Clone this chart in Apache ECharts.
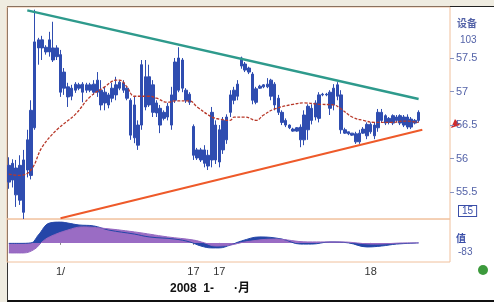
<!DOCTYPE html>
<html>
<head>
<meta charset="utf-8">
<script src="https://cdn.jsdelivr.net/npm/echarts@6/dist/echarts.min.js"></script>
<style>
html,body{margin:0;padding:0;background:#efece1;width:494px;height:302px;overflow:hidden;}
#frame{position:absolute;left:7px;top:6px;width:487px;height:296px;box-sizing:border-box;background:#fff;border-left:1.5px solid #333;border-top:1.5px solid #222;border-bottom:2px solid #111;}
#chart{position:absolute;left:0;top:0;width:494px;height:302px;}
</style>
</head>
<body>
<div id="frame"></div>
<div id="chart"></div>
<script>
// ---- data ----
const opens = [55.90,55.93,55.86,55.90,55.98,56.28,56.72,57.74,57.77,57.65,
57.66,57.77,57.65,57.65,57.55,57.29,57.07,57.05,57.11,57.10,
57.11,57.02,57.10,57.11,57.17,57.02,56.99,56.95,57.05,57.10,
57.14,57.13,57.05,56.87,56.80,56.50,57.40,57.22,57.22,57.10,
56.83,56.75,56.69,56.78,56.95,57.44,57.50,57.47,57.02,56.96,
56.48,56.13,56.13,56.13,56.05,56.69,56.50,56.43,56.57,56.62,
56.95,57.02,57.11,57.50,57.41,57.35,57.26,57.04,57.08,57.10,
57.11,57.17,57.11,56.90,56.69,56.57,56.50,56.44,56.46,56.47,
56.65,56.78,56.75,56.83,56.95,56.96,56.95,56.99,57.05,57.10,
56.95,56.43,56.40,56.38,56.37,56.38,56.44,56.51,56.51,56.50,
56.69,56.69,56.64,56.60,56.64,56.62,56.64,56.62,56.62,56.59,
56.57,56.69];
const closes = [55.65,55.68,55.46,55.38,55.20,55.83,55.75,56.46,57.65,57.77,
57.59,57.59,57.47,57.52,56.99,57.05,56.92,56.93,57.02,57.05,
56.99,57.10,57.02,56.99,56.99,56.80,56.83,56.80,56.90,56.95,
57.05,57.02,56.90,56.35,56.31,56.20,56.50,56.77,56.80,56.69,
56.68,56.50,56.60,56.62,56.50,56.87,57.02,57.05,56.87,56.84,
56.05,56.01,55.98,55.93,55.89,55.98,55.98,55.95,56.13,56.28,
56.69,56.87,56.93,57.38,57.32,57.29,56.87,56.84,57.05,57.07,
57.07,56.93,56.80,56.69,56.54,56.50,56.46,56.41,56.41,56.28,
56.28,56.43,56.57,56.62,56.60,56.95,56.96,56.75,56.80,56.93,
56.43,56.38,56.37,56.35,56.25,56.25,56.38,56.34,56.40,56.34,
56.46,56.57,56.53,56.54,56.53,56.57,56.53,56.50,56.47,56.47,
56.53,56.57];
const lows = [55.55,55.57,55.28,55.31,55.10,55.72,55.69,56.43,57.40,57.47,
57.55,57.52,57.44,57.47,56.92,56.95,56.77,56.87,56.98,57.02,
56.84,56.98,56.99,56.95,56.92,56.72,56.72,56.75,56.84,56.87,
57.02,56.98,56.87,56.28,56.23,56.13,56.43,56.72,56.77,56.62,
56.62,56.38,56.57,56.57,56.43,56.83,56.99,56.99,56.83,56.80,
55.98,55.98,55.95,55.87,55.83,55.87,55.92,55.87,56.07,56.22,
56.62,56.81,56.87,57.34,57.29,57.26,56.81,56.81,57.04,57.05,
57.05,56.87,56.72,56.65,56.50,56.47,56.44,56.40,56.40,56.17,
56.20,56.28,56.51,56.57,56.54,56.93,56.93,56.65,56.72,56.87,
56.37,56.37,56.35,56.34,56.22,56.22,56.37,56.29,56.37,56.29,
56.40,56.54,56.50,56.51,56.50,56.54,56.50,56.47,56.44,56.44,
56.51,56.54];
const highs = [56.02,55.99,55.98,56.05,56.13,56.43,56.87,58.22,57.80,57.83,
57.69,57.89,58.04,57.69,57.62,57.35,57.13,57.10,57.14,57.13,
57.14,57.13,57.13,57.17,57.29,57.17,57.07,56.98,57.13,57.22,
57.17,57.17,57.07,56.90,56.92,56.57,57.47,57.47,57.40,57.17,
56.87,56.80,56.72,56.83,57.07,57.50,57.66,57.50,57.05,56.99,
56.51,56.16,56.16,56.20,56.13,56.77,56.57,56.50,56.62,56.66,
57.02,57.07,57.17,57.52,57.44,57.37,57.29,57.07,57.10,57.11,
57.20,57.19,57.14,56.95,56.72,56.60,56.51,56.46,56.47,56.51,
56.72,56.81,56.81,56.87,56.99,56.98,56.98,57.02,57.11,57.14,
57.02,56.46,56.40,56.38,56.40,56.43,56.47,56.54,56.54,56.54,
56.74,56.74,56.66,56.62,56.66,56.65,56.66,56.65,56.66,56.62,
56.59,56.72];

const maIndex = [0,3,6,9,13,18,22,26,29,30,32,34,38,40,43,45,49,51,55,57,60,61,64,67,69,72,77,80,84,88,90,93,96,99,104,107,111];
const maValue = [55.77,55.75,55.83,56.17,56.43,56.66,56.92,57.07,57.17,57.17,57.07,56.93,56.93,56.90,56.84,56.86,56.86,56.77,56.62,56.59,56.57,56.62,56.62,56.57,56.65,56.74,56.81,56.83,56.81,56.80,56.74,56.62,56.57,56.54,56.54,56.56,56.54];

const upperLineIndex = [5,111];
const upperLineValue = [58.21,56.89];
const lowerLineIndex = [14,112];
const lowerLineValue = [55.11,56.43];

const difIndex = [0,3,6,8,11,14,16,19,23,27,34,38,45,49,52,55,57,60,63,68,74,79,82,87,92,97,101,105,111];
const difValue = [-0.02,-0.02,0,0.33,0.83,0.87,0.83,0.75,0.71,0.54,0.37,0.25,0.16,0.04,-0.13,-0.21,-0.21,-0.09,0.08,0.25,0.16,-0.05,-0.05,0.04,0,-0.17,-0.13,-0.05,0];
const deaIndex = [0,4,7,9,11,16,20,25,34,43,50,53,56,60,64,72,81,90,99,108,111];
const deaValue = [-0.42,-0.42,-0.26,0.04,0.25,0.54,0.67,0.62,0.46,0.25,0.12,0,-0.13,-0.09,0.04,0.16,0.04,0.04,-0.05,0,0];

const priceTicks = [55.5,56,56.5,57,57.5];
const xTickIndex = [14,50,57,98];
const xTickText = ['1/','17','17','18'];
const categoryCount = 120;

// ---- build ----
const categories = [];
for (let i = 0; i < categoryCount; i++) {
  const k = xTickIndex.indexOf(i);
  categories.push(k >= 0 ? xTickText[k] : '');
}
const candles = opens.map((o, i) => [o, closes[i], lows[i], highs[i]]);
const pairs = (idx, val) => idx.map((i, k) => [i, val[k]]);

const BLUE = '#2f4db0';
const ORANGE_GRID = '#f0c09c';
const LABEL = '#5463a8';

const chart = echarts.init(document.getElementById('chart'), null, {renderer: 'canvas'});
chart.setOption({
  backgroundColor: 'transparent',
  animation: false,
  grid: [
    {left: 7, right: 44, top: 7, height: 212, show: true, borderColor: ORANGE_GRID, borderWidth: 1, backgroundColor: 'transparent'},
    {left: 7, right: 44, top: 219, height: 43, show: true, borderColor: ORANGE_GRID, borderWidth: 1, backgroundColor: 'transparent'}
  ],
  xAxis: [
    {type: 'category', gridIndex: 0, data: categories, boundaryGap: true, show: false},
    {type: 'category', gridIndex: 1, data: categories, boundaryGap: true,
      axisLine: {show: false},
      axisTick: {show: true, length: 2, alignWithLabel: true, lineStyle: {color: '#888'},
        interval: (i, v) => v !== ''},
      axisLabel: {interval: (i, v) => v !== '', color: '#333', fontSize: 11, margin: 4,
        fontFamily: 'Liberation Sans, Arial, sans-serif'}
    }
  ],
  yAxis: [
    {type: 'value', gridIndex: 0, position: 'right', min: 55.1, max: 58.26, scale: true,
      splitLine: {show: false}, axisLine: {show: false},
      axisTick: {show: true, length: 4, customValues: priceTicks, lineStyle: {color: '#8893c0'}},
      axisLabel: {customValues: priceTicks, color: LABEL, fontSize: 11, margin: 6,
        fontFamily: 'Liberation Sans, Arial, sans-serif', formatter: v => String(v)}
    },
    {type: 'value', gridIndex: 1, min: -0.8, max: 1, show: false, splitLine: {show: false}}
  ],
  series: [
    {type: 'candlestick', xAxisIndex: 0, yAxisIndex: 0, data: candles, barWidth: 3,
      itemStyle: {color: BLUE, color0: BLUE, borderColor: BLUE, borderColor0: BLUE, borderWidth: 1}},
    {type: 'line', xAxisIndex: 0, yAxisIndex: 0, data: pairs(maIndex, maValue), smooth: 0.4,
      symbol: 'none', lineStyle: {color: '#b8392a', width: 1.3, type: [3, 1.5]}},
    {type: 'line', xAxisIndex: 0, yAxisIndex: 0, data: pairs(upperLineIndex, upperLineValue),
      symbol: 'none', lineStyle: {color: '#2e9a8c', width: 2.5}},
    {type: 'line', xAxisIndex: 0, yAxisIndex: 0, data: pairs(lowerLineIndex, lowerLineValue),
      symbol: 'none', lineStyle: {color: '#ee5a2a', width: 2}},
    {type: 'line', xAxisIndex: 1, yAxisIndex: 1, data: pairs(difIndex, difValue), smooth: 0.4,
      symbol: 'none', lineStyle: {color: '#2446a8', width: 1}, areaStyle: {color: '#2446a8', opacity: 1}},
    {type: 'line', xAxisIndex: 1, yAxisIndex: 1, data: pairs(deaIndex, deaValue), smooth: 0.4,
      symbol: 'none', lineStyle: {color: '#9467c0', width: 1}, areaStyle: {color: '#9a6cc4', opacity: 1}}
  ],
  graphic: [
    {type: 'text', left: 457, top: 18, style: {text: '设备', fill: LABEL, font: 'bold 10px "Noto Sans CJK SC"'}},
    {type: 'text', left: 460, top: 35, style: {text: '103', fill: LABEL, font: '10px "Liberation Sans"'}},
    {type: 'polygon', shape: {points: [[451, 128], [455, 119], [460, 125]]}, style: {fill: '#d02a2a'}},
    {type: 'text', left: 458, top: 205, style: {text: '15', fill: '#3a4ea8', font: '10px "Liberation Sans"',
      borderColor: '#3a4ea8', borderWidth: 1, padding: [0, 3], backgroundColor: '#fff'}},
    {type: 'text', left: 456, top: 233, style: {text: '值', fill: '#3a4ea8', font: 'bold 10px "Noto Sans CJK SC"'}},
    {type: 'text', left: 458, top: 247, style: {text: '-83', fill: LABEL, font: '10px "Liberation Sans"'}},
    {type: 'circle', shape: {cx: 483, cy: 270, r: 5}, style: {fill: '#3c9a3c'}},
    {type: 'text', left: 170, top: 283, style: {text: '2008  1-      ·月', fill: '#111', font: 'bold 12px "Liberation Sans", "Noto Sans CJK SC"'}}
  ]
});
</script>
</body>
</html>
